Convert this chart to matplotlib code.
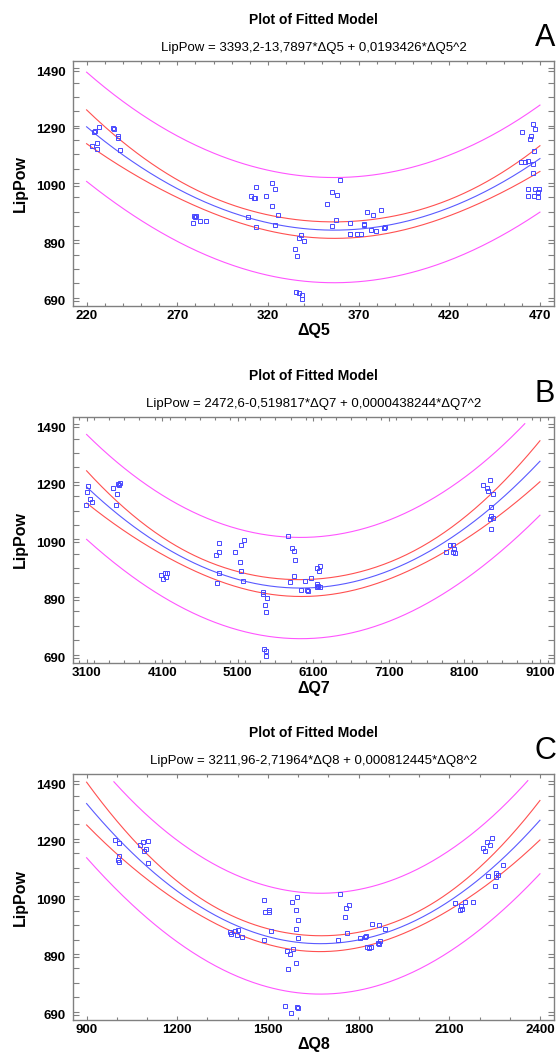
import numpy as np
import matplotlib
matplotlib.use('Agg')
import matplotlib.pyplot as plt
from matplotlib.ticker import MultipleLocator

plt.rcParams['font.family'] = ['Liberation Sans', 'DejaVu Sans']

# panel A: LipPow vs dQ5
q5_x = [224.4, 224, 227, 223, 225.9, 225.9, 234.8, 235, 237.4, 237.5, 238.6,
        279.4, 280, 280.6, 278.7, 282.3, 285.8,
        310.7, 312.7, 313.4, 312.3, 309, 313.6, 319, 322.4, 324, 322.2, 325.7, 323.7,
        335, 336.3, 337.4, 338.3, 340, 335.7, 337, 338.6, 338.6,
        352.5, 355.6, 358.2, 360, 357.7, 355.5, 365, 365, 365.4, 368.9, 371.5,
        372.8, 373, 374.6, 378.1, 377, 379.8, 382.2, 383.8, 384.7,
        459.9, 466, 467, 464.8, 464.5, 466.5, 459.3, 462, 463.6, 466, 466,
        463.6, 467.4, 469.6, 468.7, 463.6, 466.5, 468.9]
q5_y = [1281, 1277, 1296, 1228, 1239, 1217, 1290, 1288, 1262, 1257, 1216,
        983, 980, 984, 959, 966, 968,
        1054, 1046, 1085, 1046, 980, 948, 1053, 1099, 1080, 1019, 987, 955,
        869, 846, 909, 917, 897, 720, 715, 709, 695,
        1027, 1070, 1059, 1109, 972, 949, 962, 923, 922, 922, 921,
        955, 957, 999, 987, 935, 934, 1005, 942, 946,
        1277, 1304, 1287, 1265, 1254, 1211, 1172, 1174, 1177, 1167, 1133,
        1079, 1080, 1078, 1067, 1054, 1055, 1051]
q5_coef = [3393.2, -13.7897, 0.0193426]
q5_ticks = [220, 270, 320, 370, 420, 470]

# panel B: LipPow vs dQ7
q7_x = [3118, 3109, 3149, 3166, 3096, 3454, 3507, 3489, 3520, 3534, 3547,
        4082, 4135, 4162, 4153, 4109,
        4817, 4848, 4857, 4852, 4821, 5060, 5149, 5184, 5135, 5149, 5166,
        5441, 5441, 5485, 5458, 5472, 5450, 5472, 5476,
        5759, 5817, 5848, 5857, 5848, 5790, 5941, 5985, 6012, 6029, 6065,
        6153, 6184, 6175, 6153, 6166, 6188, 6144,
        7852, 7914, 7954, 7967, 7950, 7981,
        8352, 8445, 8396, 8418, 8473, 8458, 8458, 8476, 8436, 8458]
q7_y = [1284, 1263, 1240, 1229, 1220, 1280, 1259, 1219, 1292, 1290, 1296,
        975, 982, 985, 968, 961,
        1047, 1055, 1087, 982, 950, 1055, 1081, 1098, 1020, 989, 955,
        918, 909, 898, 871, 848, 720, 712, 696,
        1111, 1071, 1060, 1028, 974, 951, 925, 957, 923, 921, 965,
        1002, 1007, 989, 944, 938, 936, 936,
        1056, 1079, 1081, 1068, 1057, 1052,
        1290, 1307, 1279, 1269, 1256, 1213, 1182, 1176, 1172, 1136]
q7_coef = [2472.6, -0.519817, 0.0000438244]
q7_ticks = [3100, 4100, 5100, 6100, 7100, 8100, 9100]

# panel C: LipPow vs dQ8
q8_x = [992.6, 1008, 1008, 1005, 1008, 1078, 1086, 1102, 1096, 1091, 1102,
        1374, 1379, 1392, 1400, 1396, 1413,
        1487, 1488, 1491, 1502, 1503, 1510,
        1564, 1572, 1584, 1592, 1565, 1580, 1597, 1594, 1600, 1592, 1600,
        1557, 1577, 1597, 1601,
        1740, 1758, 1768, 1756, 1762, 1733,
        1845, 1867, 1887, 1803, 1821, 1825, 1828, 1835, 1841, 1866, 1872, 1865,
        2120, 2134, 2140, 2141, 2152, 2179,
        2224, 2240, 2213, 2218, 2235, 2278, 2229, 2254, 2256, 2262, 2251]
q8_y = [1296, 1284, 1239, 1228, 1219, 1277, 1288, 1292, 1263, 1258, 1216,
        977, 969, 980, 983, 967, 959,
        948, 1086, 1046, 1054, 1046, 981,
        911, 899, 917, 870, 848, 1082, 1099, 1053, 1019, 988, 955,
        720, 695, 716, 711,
        1110, 1060, 1071, 1027, 973, 950,
        1006, 1000, 988, 954, 958, 963, 923, 922, 924, 934, 944, 940,
        1078, 1052, 1067, 1056, 1081, 1079,
        1288, 1304, 1267, 1256, 1277, 1210, 1172, 1180, 1169, 1173, 1135]
q8_coef = [3211.96, -2.71964, 0.000812445]
q8_ticks = [900, 1200, 1500, 1800, 2100, 2400]

y_ticks = [690, 890, 1090, 1290, 1490]

panels = [
    ('A', 'ΔQ5', q5_x, q5_y, q5_coef, q5_ticks, 10,
     'LipPow = 3393,2-13,7897*ΔQ5 + 0,0193426*ΔQ5^2'),
    ('B', 'ΔQ7', q7_x, q7_y, q7_coef, q7_ticks, 200,
     'LipPow = 2472,6-0,519817*ΔQ7 + 0,0000438244*ΔQ7^2'),
    ('C', 'ΔQ8', q8_x, q8_y, q8_coef, q8_ticks, 100,
     'LipPow = 3211,96-2,71964*ΔQ8 + 0,000812445*ΔQ8^2'),
]

W, H = 556, 1057
fig = plt.figure(figsize=(W / 100, H / 100), dpi=100)

# axes boxes in pixels (top, bottom)
boxes = [(61, 306), (417, 663), (774, 1020)]
left, right = 73, 554


def fit_bands(x, y, coef, xs, t=1.99):
    # quadratic fit with 95% limits for the mean and for new observations
    x = np.asarray(x, float)
    y = np.asarray(y, float)
    m, sd = x.mean(), x.std()
    z = (x - m) / sd
    zs = (xs - m) / sd
    X = np.column_stack([np.ones_like(z), z, z ** 2])
    Xs = np.column_stack([np.ones_like(zs), zs, zs ** 2])
    resid = y - np.polyval(coef[::-1], x)
    s = np.sqrt(np.sum(resid ** 2) / (len(x) - 3))
    inv = np.linalg.inv(X.T @ X)
    h = np.einsum('ij,jk,ik->i', Xs, inv, Xs)
    fit = np.polyval(coef[::-1], xs)
    return fit, t * s * np.sqrt(h), t * s * np.sqrt(1 + h)


def clip(v, top=1502):
    v = v.copy()
    v[v > top] = np.nan
    return v


for (letter, xlab, xd, yd, coef, xt, xminor, formula), (top, bot) in zip(panels, boxes):
    ax = fig.add_axes([left / W, 1 - bot / H, (right - left) / W, (bot - top) / H])
    span = xt[-1] - xt[0]
    ax.set_xlim(xt[0] - 0.03 * span, xt[-1] + 0.031 * span)
    ax.set_ylim(671, 1525)

    xs = np.linspace(xt[0], xt[-1], 300)
    fit, conf, pred = fit_bands(xd, yd, coef, xs)
    ax.plot(xs, clip(fit + pred), color='#ff55ff', lw=0.8)
    ax.plot(xs, clip(fit - pred), color='#ff55ff', lw=0.8)
    ax.plot(xs, clip(fit + conf), color='#ff5050', lw=0.8)
    ax.plot(xs, clip(fit - conf), color='#ff5050', lw=0.8)
    ax.plot(xs, clip(fit), color='#5a5aff', lw=0.8)
    ax.plot(xd, yd, ls='none', marker='s', ms=2.2, mfc='none', mec='#4848ff', mew=0.7)

    ax.set_xticks(xt)
    ax.set_yticks(y_ticks)
    ax.xaxis.set_minor_locator(MultipleLocator(xminor))
    ax.yaxis.set_minor_locator(MultipleLocator(50))
    ax.tick_params(axis='both', which='both', direction='in', color='#808080',
                   width=0.8, top=True, right=True)
    ax.tick_params(axis='y', which='both', length=4.5, pad=5)
    ax.tick_params(axis='x', which='major', length=3, pad=3)
    ax.tick_params(axis='x', which='minor', length=2.5)
    for lab in ax.get_xticklabels() + ax.get_yticklabels():
        lab.set_fontweight('bold')
        lab.set_fontsize(9.5)
    for sp in ax.spines.values():
        sp.set_color('#808080')
        sp.set_linewidth(1.0)

    cx = (left + right) / 2 / W
    fig.text(cx, 1 - (top - 41) / H, 'Plot of Fitted Model', ha='center', va='center',
             fontsize=10, fontweight='bold')
    fig.text(cx, 1 - (top - 13) / H, formula, ha='center', va='center', fontsize=9.5)
    fig.text(545 / W, 1 - (top - 23) / H, letter, ha='center', va='center', fontsize=22)
    fig.text(20 / W, 1 - (top + bot) / 2 / H, 'LipPow', rotation=90, ha='center',
             va='center', fontsize=11.5, fontweight='bold')
    fig.text(cx, 1 - (bot + 25) / H, xlab, ha='center', va='center', fontsize=11.5,
             fontweight='bold')

fig.savefig('out.png', dpi=100)
